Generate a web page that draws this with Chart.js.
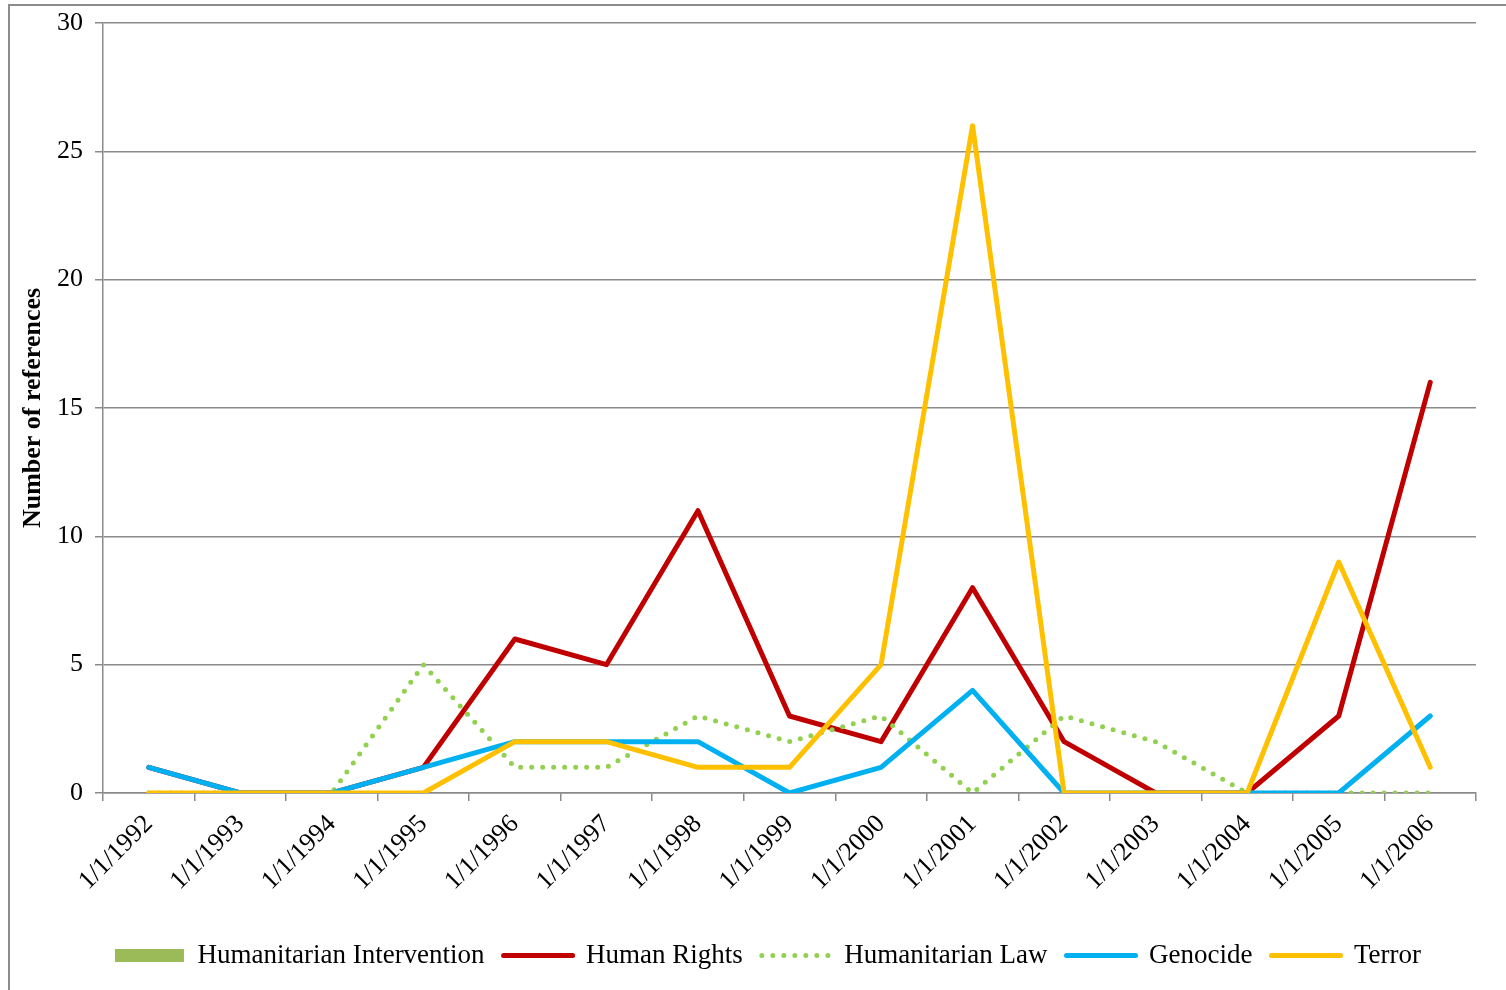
<!DOCTYPE html>
<html lang="en">
<head>
  <meta charset="UTF-8">
  <title>Number of references 1992-2006</title>
  <script src="https://cdn.jsdelivr.net/npm/chart.js"></script>
  <style>
    * { box-sizing: border-box; margin: 0; padding: 0; }
    body { background: #ffffff; overflow: hidden; }
    .frame { position: absolute; left: 8px; top: 4px; width: 1600px; height: 1100px; border-left: 2px solid #8c8c8c; border-top: 2px solid #8c8c8c; }
    .wrap { position: absolute; left: 0; top: 0; width: 1506px; height: 990px; }
  </style>
</head>
<body>
  <div class="frame"></div>
  <div class="wrap"><canvas id="chart"></canvas></div>
  <script>
    const years = ['1/1/1992', '1/1/1993', '1/1/1994', '1/1/1995', '1/1/1996', '1/1/1997', '1/1/1998', '1/1/1999',
                   '1/1/2000', '1/1/2001', '1/1/2002', '1/1/2003', '1/1/2004', '1/1/2005', '1/1/2006'];
    const intervention = [0, 0, 0, 0, 0, 0, 0, 0, 0, 0, 0, 0, 0, 0, 0];
    const humanRights  = [1, 0, 0, 1, 6, 5, 11, 3, 2, 8, 2, 0, 0, 3, 16];
    const humanLaw     = [0, 0, 0, 5, 1, 1, 3, 2, 3, 0, 3, 2, 0, 0, 0];
    const genocide     = [1, 0, 0, 1, 2, 2, 2, 0, 1, 4, 0, 0, 0, 0, 3];
    const terror       = [0, 0, 0, 0, 2, 2, 1, 1, 5, 26, 0, 0, 0, 9, 1];
    const yTicks = [0, 5, 10, 15, 20, 25, 30];

    const FONT = "'Liberation Serif', 'Times New Roman', serif";
    const GRID = '#8a8a8a';

    function lineSet(label, data, color, order, dash) {
      return {
        type: 'line', label, data, order,
        borderColor: color, backgroundColor: color,
        borderWidth: 5,
        borderDash: dash || [],
        borderCapStyle: 'round', borderJoinStyle: 'round',
        tension: 0, pointRadius: 0, fill: false
      };
    }

    const datasets = [
      { type: 'bar', label: 'Humanitarian Intervention', data: intervention, order: 5,
        backgroundColor: '#9bbb59', borderWidth: 0 },
      lineSet('Human Rights', humanRights, '#c00000', 4),
      lineSet('Humanitarian Law', humanLaw, '#92d050', 3, [0, 11]),
      lineSet('Genocide', genocide, '#00b0f0', 2),
      lineSet('Terror', terror, '#ffc000', 1)
    ];

    // the legend sits a little right of the page centre in the original
    const legendShift = {
      id: 'legendShift',
      afterLayout(chart) {
        chart.legend.left += 22;
        chart.legend.right += 22;
      }
    };

    new Chart(document.getElementById('chart'), {
      type: 'line',
      data: { labels: years, datasets },
      plugins: [legendShift],
      options: {
        responsive: true,
        maintainAspectRatio: false,
        animation: false,
        layout: { padding: { left: 16, right: 30, top: 23, bottom: 11 } },
        plugins: {
          tooltip: { enabled: false },
          legend: {
            position: 'bottom',
            labels: {
              usePointStyle: true,
              pointStyleWidth: 69,
              boxHeight: 13,
              padding: 19,
              color: '#000',
              font: { family: FONT, size: 27 },
              sort: (a, b) => a.datasetIndex - b.datasetIndex,
              generateLabels: chart => chart.data.datasets.map((ds, i) => ({
                text: ds.label,
                datasetIndex: i,
                fillStyle: ds.backgroundColor,
                strokeStyle: ds.type === 'bar' ? 'transparent' : ds.borderColor,
                lineWidth: ds.type === 'bar' ? 0 : ds.borderWidth,
                lineDash: ds.borderDash || [],
                lineCap: 'round',
                pointStyle: ds.type === 'bar' ? 'rect' : 'line',
                fontColor: '#000'
              }))
            }
          }
        },
        scales: {
          x: {
            offset: true,
            grid: { offset: true, drawOnChartArea: false, tickLength: 8, color: GRID, lineWidth: 1.5 },
            border: { color: GRID, width: 1.5 },
            ticks: {
              autoSkip: false, maxRotation: 45, minRotation: 45, padding: 8,
              color: '#000', font: { family: FONT, size: 26 }
            },
            afterFit: scale => { scale.height = 130; }
          },
          y: {
            min: 0, max: 30,
            afterBuildTicks: scale => { scale.ticks = yTicks.map(v => ({ value: v })); },
            grid: { color: GRID, lineWidth: 1.5, tickLength: 8 },
            border: { color: GRID, width: 1.5 },
            ticks: { padding: 12, color: '#000', font: { family: FONT, size: 26 } },
            title: {
              display: true, text: 'Number of references', color: '#000',
              font: { family: FONT, size: 26, weight: 'bold' },
              padding: { top: 2, bottom: 4 }
            },
            afterFit: scale => {
              scale.width = 87;
              scale.paddingTop = 0;
              scale.paddingBottom = 0;
            }
          }
        }
      }
    });
  </script>
</body>
</html>
